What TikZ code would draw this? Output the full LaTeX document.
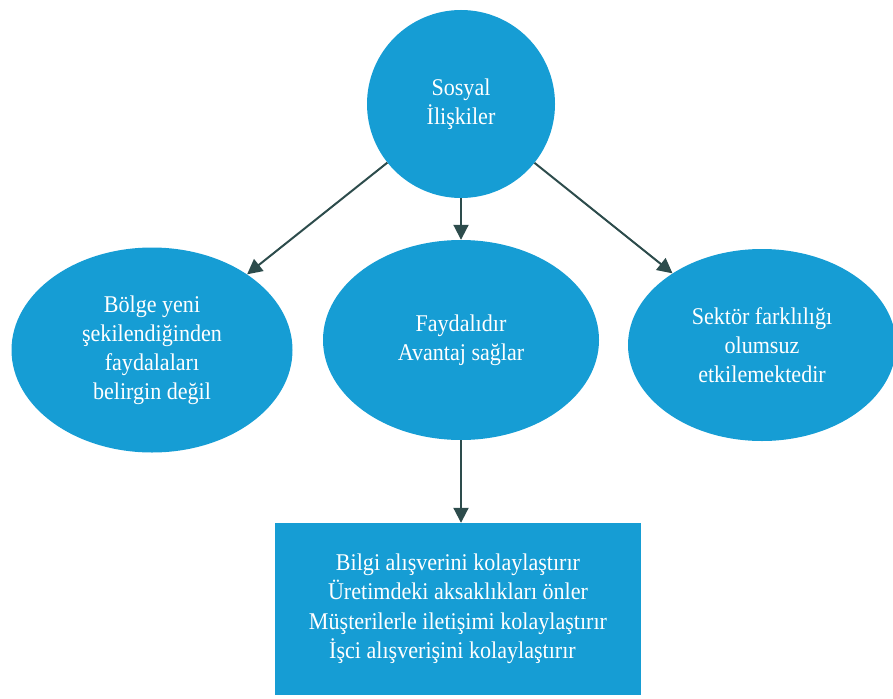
\documentclass[tikz,border=0pt]{standalone}
\usepackage{fontspec}
\setmainfont{Liberation Serif}[FakeStretch=0.92]
\usetikzlibrary{shapes.geometric,arrows.meta}
\definecolor{bubble}{RGB}{22,157,212}
\definecolor{arrowc}{RGB}{45,76,76}
\tikzset{
  blob/.style={ellipse,fill=bubble,draw=none,inner sep=0pt,align=center,text=white,
    font=\fontsize{24}{29}\selectfont},
  boxnode/.style={rectangle,fill=bubble,draw=none,inner sep=0pt,align=center,text=white,
    font=\fontsize{24}{29.5}\selectfont},
  conn/.style={draw=arrowc,line width=2pt,-{Triangle[length=15pt,width=15pt]}}
}
\begin{document}
\begin{tikzpicture}[x=1pt,y=-1pt]
\useasboundingbox (0,0) rectangle (893,698);
\node[blob,circle,minimum size=188pt] (top) at (461,104) {Sosyal\\İlişkiler};
\node[blob,minimum width=281pt,minimum height=205pt] (left) at (152,350)
  {Bölge yeni\\şekilendiğinden\\faydalaları\\belirgin değil};
\node[blob,minimum width=276pt,minimum height=200pt] (mid) at (461,340)
  {Faydalıdır\\Avantaj sağlar};
\node[blob,minimum width=268pt,minimum height=192pt] (right) at (762,345)
  {Sektör farklılığı\\olumsuz\\etkilemektedir};
\node[boxnode,minimum width=366pt,minimum height=172pt] (box) at (458,609)
  {Bilgi alışverini kolaylaştırır\\Üretimdeki aksaklıkları önler\\Müşterilerle iletişimi kolaylaştırır\\İşci alışverişini kolaylaştırır\ \ \ };
\draw[conn] (top) -- (left);
\draw[conn] (top.south) -- (mid.north);
\draw[conn] (top) -- (right);
\draw[conn] (mid.south) -- (mid.south |- box.north);
\end{tikzpicture}
\end{document}
